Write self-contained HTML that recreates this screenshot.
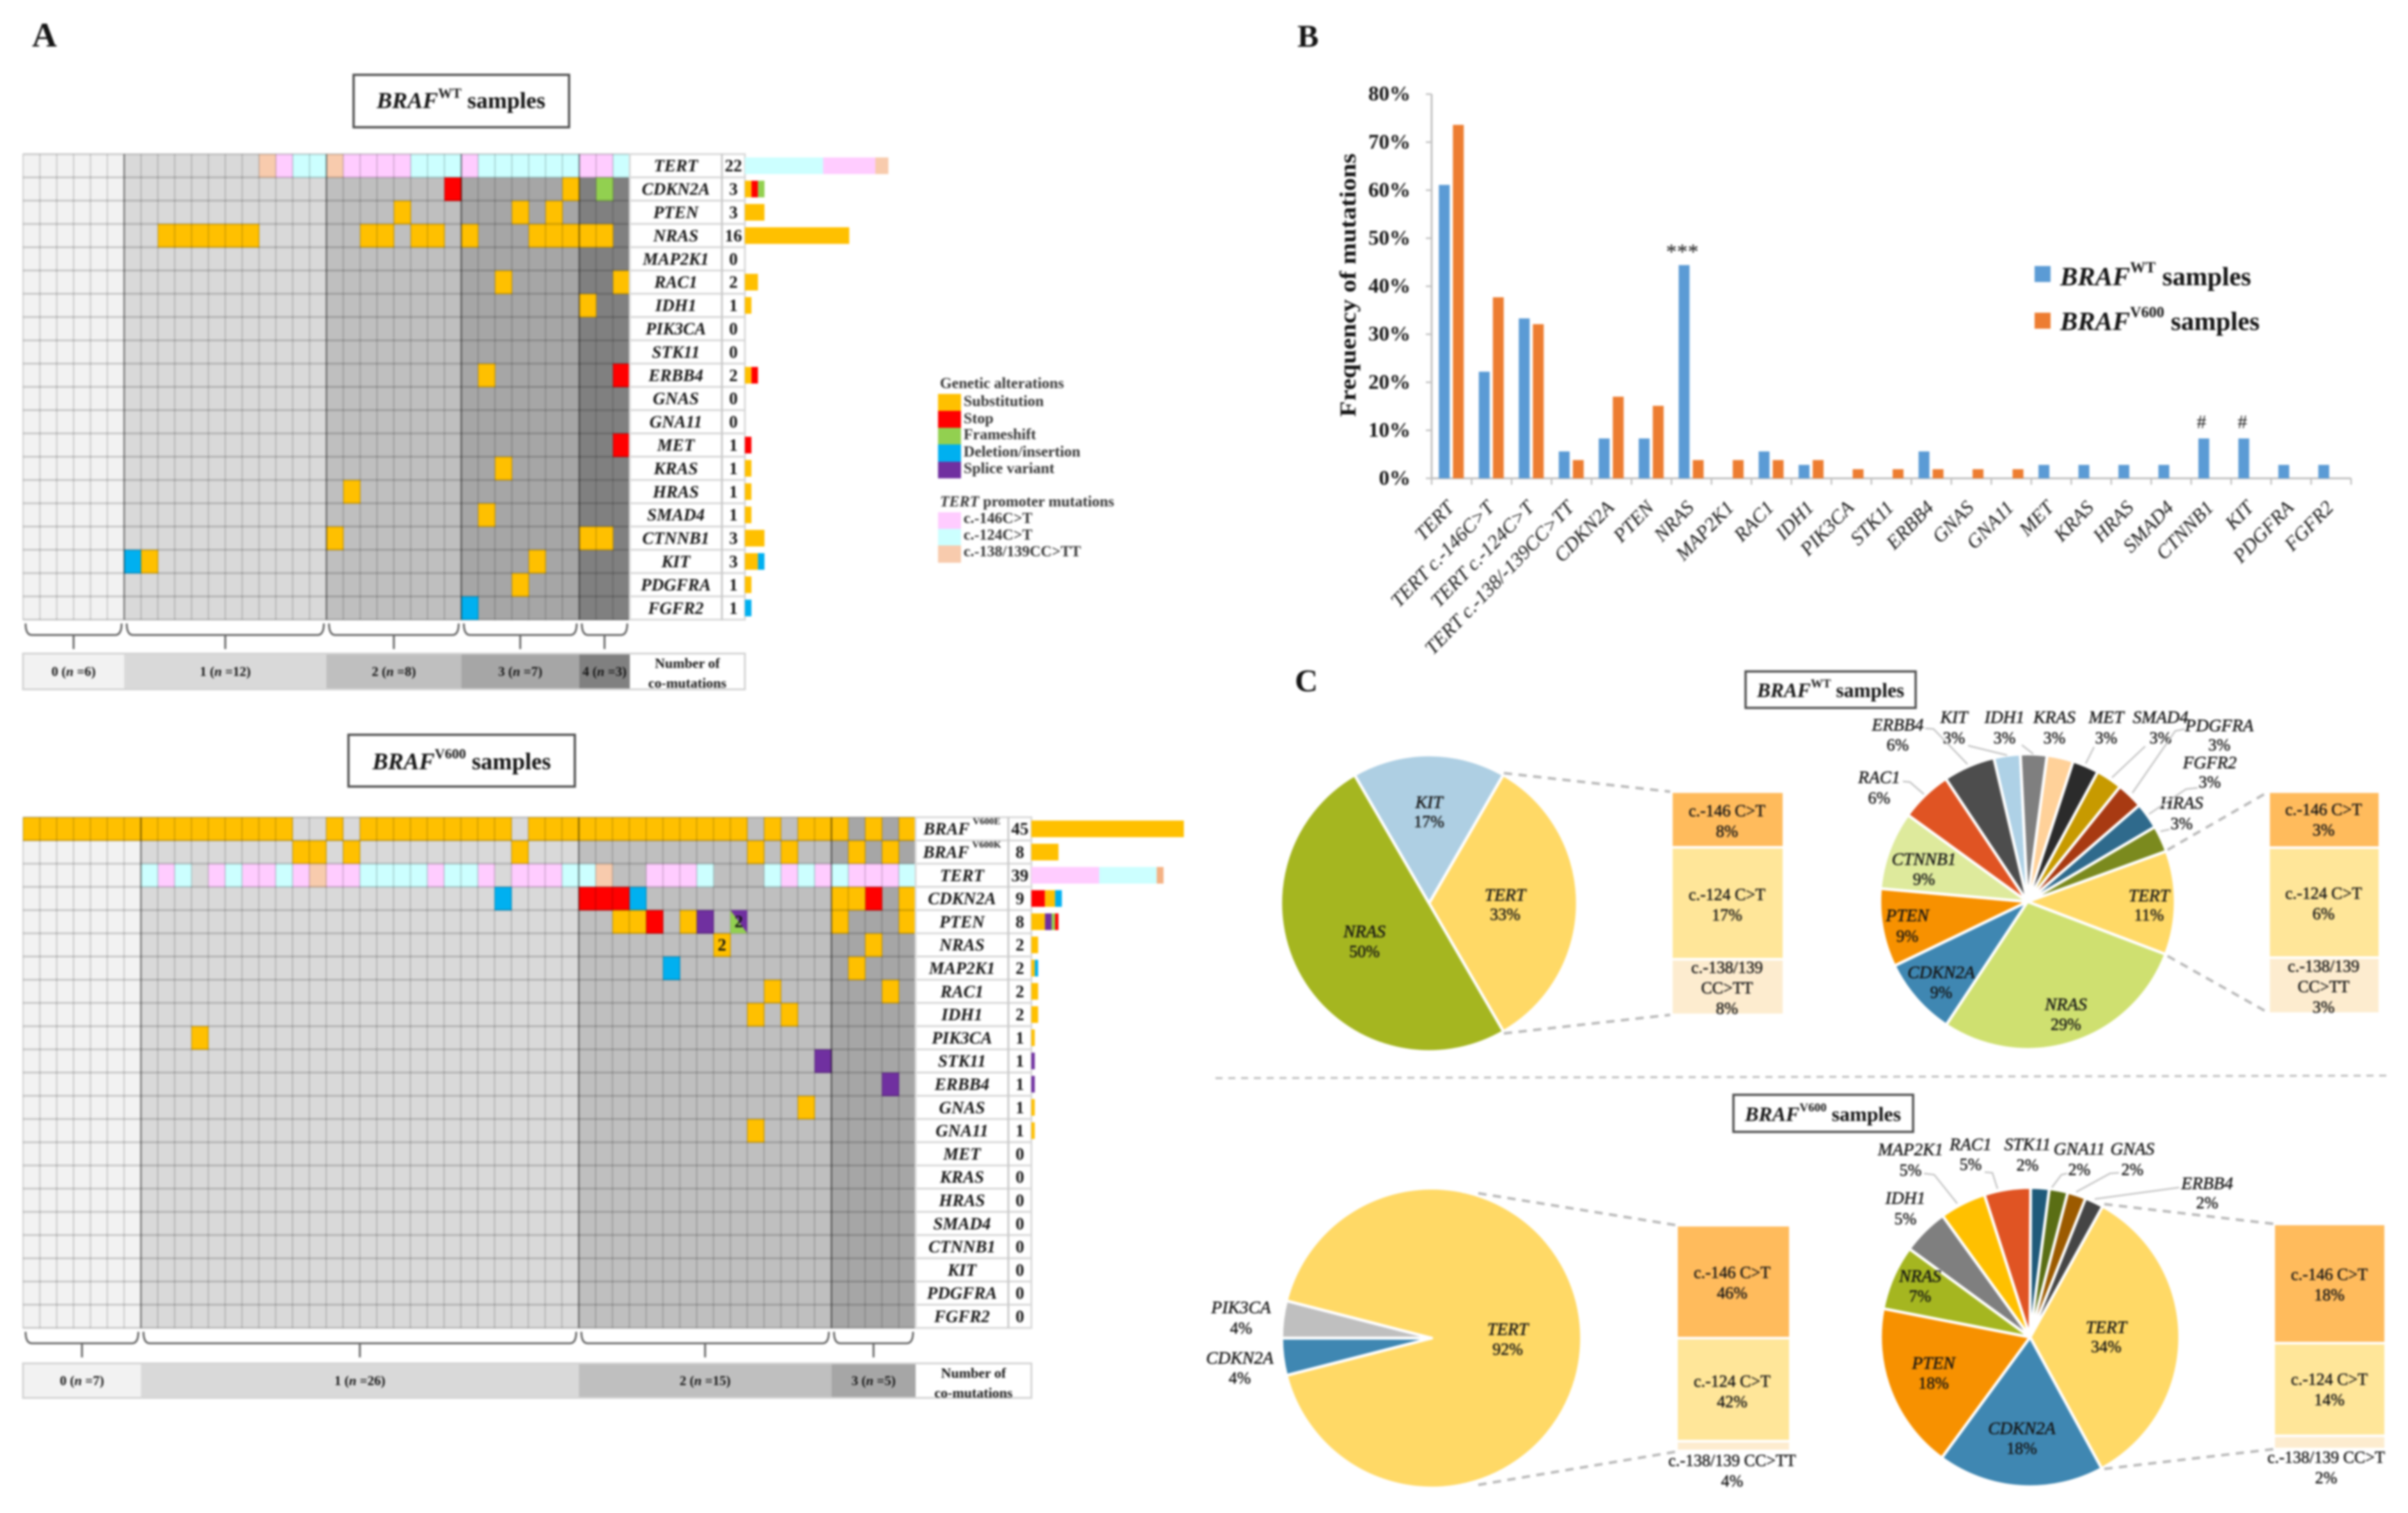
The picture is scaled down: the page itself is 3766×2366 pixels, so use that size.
<!DOCTYPE html>
<html lang="en">
<head>
<meta charset="utf-8">
<title>Co-mutation landscape of BRAF wild-type and V600 samples</title>
<style>
html,body{margin:0;padding:0;background:#fff}
svg{display:block;filter:blur(1.6px)}
text{font-family:"Liberation Serif",serif;fill:#141414;dominant-baseline:central}
.legend-text{font-size:24px;font-weight:bold;fill:#333}
.it{font-style:italic}
.gray-line{fill:none;stroke:#c4c4c4;stroke-width:2.5}
.dash-line{fill:none;stroke:#b8b8b8;stroke-width:4;stroke-dasharray:13 10}
.title-box{fill:#fff;stroke:#4d4d4d;stroke-width:3.5}
</style>
</head>
<body>
<svg id="figure" width="3766" height="2366" viewBox="0 0 3766 2366" xmlns="http://www.w3.org/2000/svg">
  <rect width="3766" height="2366" fill="#fff"/>

  <text x="50" y="55" font-size="54" font-weight="bold">A</text>
  <text x="2029" y="56" font-size="50" font-weight="bold">B</text>
  <text x="2025" y="1064" font-size="50" font-weight="bold">C</text>

  <rect class="title-box" x="553" y="117" width="337" height="82"/>
  <text x="721" y="157" font-size="36" font-weight="bold" text-anchor="middle"><tspan class="it">BRAF</tspan><tspan font-size="22" dy="-12">WT</tspan><tspan dy="12"> samples</tspan></text>
  <rect class="title-box" x="545" y="1149" width="354" height="81"/>
  <text x="722" y="1190" font-size="36.5" font-weight="bold" text-anchor="middle"><tspan class="it">BRAF</tspan><tspan font-size="22" dy="-12">V600</tspan><tspan dy="12"> samples</tspan></text>

  <g id="panel-a-wt"></g>
  <g id="panel-a-v600"></g>

  <g>
    <text class="legend-text" x="1470" y="600">Genetic alterations</text>
    <rect x="1467" y="616" width="36" height="27" fill="#ffc000"/>
    <rect x="1467" y="642.5" width="36" height="27" fill="#ff0000"/>
    <rect x="1467" y="669" width="36" height="27" fill="#92d050"/>
    <rect x="1467" y="695" width="36" height="27" fill="#00b0f0"/>
    <rect x="1467" y="722" width="36" height="26" fill="#7030a0"/>
    <text class="legend-text" x="1507" y="628">Substitution</text>
    <text class="legend-text" x="1507" y="655">Stop</text>
    <text class="legend-text" x="1507" y="680">Frameshift</text>
    <text class="legend-text" x="1507" y="707">Deletion/insertion</text>
    <text class="legend-text" x="1507" y="733">Splice variant</text>
    <text class="legend-text" x="1470" y="785"><tspan class="it">TERT</tspan>  promoter mutations</text>
    <rect x="1467" y="801" width="36" height="27" fill="#ffccff"/>
    <rect x="1467" y="827" width="36" height="27" fill="#ccffff"/>
    <rect x="1467" y="853" width="36" height="27" fill="#f8cbad"/>
    <text class="legend-text" x="1507" y="811">c.-146C&gt;T</text>
    <text class="legend-text" x="1507" y="837">c.-124C&gt;T</text>
    <text class="legend-text" x="1507" y="863">c.-138/139CC&gt;TT</text>
  </g>

  <g id="panel-b"></g>
  <text transform="translate(2108 446) rotate(-90)" text-anchor="middle" font-size="36" font-weight="bold" textLength="412" lengthAdjust="spacingAndGlyphs">Frequency of mutations</text>
  <rect x="3182" y="416" width="25" height="25" fill="#5b9bd5"/>
  <text x="3222" y="432" font-size="41" font-weight="bold"><tspan class="it">BRAF</tspan><tspan font-size="24" dy="-13">WT</tspan><tspan dy="13"> samples</tspan></text>
  <rect x="3182" y="489" width="25" height="25" fill="#ed7d31"/>
  <text x="3222" y="502" font-size="41" font-weight="bold"><tspan class="it">BRAF</tspan><tspan font-size="24" dy="-13">V600</tspan><tspan dy="13"> samples</tspan></text>
  <text x="2631" y="394" font-size="34" text-anchor="middle" fill="#555">***</text>
  <text x="3443" y="660" font-size="30" text-anchor="middle" fill="#666">#</text>
  <text x="3507" y="660" font-size="30" text-anchor="middle" fill="#666">#</text>

  <rect class="title-box" x="2730" y="1050" width="266" height="57"/>
  <text x="2863" y="1079" font-size="31.5" font-weight="bold" text-anchor="middle"><tspan class="it">BRAF</tspan><tspan font-size="19" dy="-10">WT</tspan><tspan dy="10"> samples</tspan></text>
  <rect class="title-box" x="2711" y="1712" width="281" height="58"/>
  <text x="2851" y="1742" font-size="32" font-weight="bold" text-anchor="middle"><tspan class="it">BRAF</tspan><tspan font-size="19" dy="-10">V600</tspan><tspan dy="10"> samples</tspan></text>

  <path d="M1901 1686 L3735 1682" fill="none" stroke="#bdbdbd" stroke-width="3" stroke-dasharray="11 9"/>

  <g id="panel-c"></g>

  <g>
    <path class="dash-line" d="M2352 1209 L2612 1238"/>
    <path class="dash-line" d="M2352 1616 L2612 1587"/>
    <path class="dash-line" d="M3390 1329 L3548 1238"/>
    <path class="dash-line" d="M3390 1495 L3548 1584"/>
    <path class="dash-line" d="M2312 1866 L2622 1916"/>
    <path class="dash-line" d="M2312 2322 L2622 2270"/>
    <path class="dash-line" d="M3291 1883 L3557 1914"/>
    <path class="dash-line" d="M3291 2297 L3557 2266"/>
  </g>

  <g>
    <polyline class="gray-line" points="2976,1222 2987,1223 3009,1242"/>
    <polyline class="gray-line" points="3011,1139 3024,1140 3077,1195"/>
    <polyline class="gray-line" points="3078,1166 3139,1181"/>
    <polyline class="gray-line" points="3162,1165 3180,1179"/>
    <polyline class="gray-line" points="3275,1168 3262,1194"/>
    <polyline class="gray-line" points="3355,1167 3303,1216"/>
    <polyline class="gray-line" points="3417,1140 3402,1143 3335,1240"/>
    <polyline class="gray-line" points="3437,1232 3419,1234 3361,1273"/>
    <polyline class="gray-line" points="3393,1297 3379,1300"/>
    <polyline class="gray-line" points="3009,1835 3025,1837 3061,1882"/>
    <polyline class="gray-line" points="3104,1833 3116,1834 3124,1859"/>
    <polyline class="gray-line" points="3233,1835 3224,1837 3209,1857"/>
    <polyline class="gray-line" points="3314,1834 3300,1835 3247,1864"/>
    <polyline class="gray-line" points="3408,1857 3276,1875"/>
  </g>
</svg>

<script>
// ---------- Panel A data: BRAF wild-type oncoprint ----------
const wtGenes = ['TERT','CDKN2A','PTEN','NRAS','MAP2K1','RAC1','IDH1','PIK3CA','STK11','ERBB4','GNAS','GNA11','MET','KRAS','HRAS','SMAD4','CTNNB1','KIT','PDGFRA','FGFR2'];
const wtCounts = [22,3,3,16,0,2,1,0,0,2,0,0,1,1,1,1,3,3,1,1];
const wtGroupSizes = [6,12,8,7,3];
const wtAlterations = [
  ['TERT','c138',[14,18]],
  ['TERT','c146',[15,19,20,21,22,26,33,34]],
  ['TERT','c124',[16,17,23,24,25,27,28,29,30,31,32,35]],
  ['CDKN2A','stop',[25]],['CDKN2A','sub',[32]],['CDKN2A','frame',[34]],
  ['PTEN','sub',[22,29,31]],
  ['NRAS','sub',[8,9,10,11,12,13,20,21,23,24,26,30,31,32,33,34]],
  ['RAC1','sub',[28,35]],
  ['IDH1','sub',[33]],
  ['ERBB4','sub',[27]],['ERBB4','stop',[35]],
  ['MET','stop',[35]],
  ['KRAS','sub',[28]],
  ['HRAS','sub',[19]],
  ['SMAD4','sub',[27]],
  ['CTNNB1','sub',[18,33,34]],
  ['KIT','indel',[6]],['KIT','sub',[7,30]],
  ['PDGFRA','sub',[29]],
  ['FGFR2','indel',[26]]
];
const wtBarSegments = [
  [['c124',12],['c146',8],['c138',2]],
  [['sub',1],['stop',1],['frame',1]],
  [['sub',3]],
  [['sub',16]],
  [],
  [['sub',2]],
  [['sub',1]],
  [],
  [],
  [['sub',1],['stop',1]],
  [],
  [],
  [['stop',1]],
  [['sub',1]],
  [['sub',1]],
  [['sub',1]],
  [['sub',3]],
  [['sub',2],['indel',1]],
  [['sub',1]],
  [['indel',1]]
];

// ---------- Panel A data: BRAF V600 oncoprint ----------
const v600Genes = ['BRAF V600E','BRAF V600K','TERT','CDKN2A','PTEN','NRAS','MAP2K1','RAC1','IDH1','PIK3CA','STK11','ERBB4','GNAS','GNA11','MET','KRAS','HRAS','SMAD4','CTNNB1','KIT','PDGFRA','FGFR2'];
const v600Counts = [45,8,39,9,8,2,2,2,2,1,1,1,1,1,0,0,0,0,0,0,0,0];
const v600GroupSizes = [7,26,15,5];
const v600Alterations = [
  ['BRAF V600E','sub',[0,1,2,3,4,5,6,7,8,9,10,11,12,13,14,15,18,20,21,22,23,24,25,26,27,28,30,31,32,33,34,35,36,37,38,39,40,41,42,44,46,47,48,50,52]],
  ['BRAF V600K','sub',[16,17,19,29,43,45,49,51]],
  ['TERT','c146',[8,11,13,14,16,18,19,24,27,29,30,31,37,38,39,45,47,49,50,51]],
  ['TERT','c124',[7,9,12,15,20,21,22,23,25,26,32,33,40,44,46,48,52]],
  ['TERT','c138',[17,34]],
  ['CDKN2A','indel',[28,36]],['CDKN2A','stop',[33,34,35,50]],['CDKN2A','sub',[48,49,52]],
  ['PTEN','sub',[35,36,39,48,52]],['PTEN','stop',[37]],['PTEN','splice',[40]],
  ['NRAS','sub',[41,50]],
  ['MAP2K1','indel',[38]],['MAP2K1','sub',[49]],
  ['RAC1','sub',[44,51]],
  ['IDH1','sub',[43,45]],
  ['PIK3CA','sub',[10]],
  ['STK11','splice',[47]],
  ['ERBB4','splice',[51]],
  ['GNAS','sub',[46]],
  ['GNA11','sub',[43]]
];
const v600SplitCells = [['PTEN','splice','frame',42]];
const v600DoubleHits = [['NRAS',41],['PTEN',42]];
const v600BarSegments = [
  [['sub',45]],
  [['sub',8]],
  [['c146',20],['c124',17],['c138dark',2]],
  [['stop',4],['sub',3],['indel',2]],
  [['sub',4],['splice',2],['frame',1],['stop',1]],
  [['sub',2]],
  [['sub',1],['indel',1]],
  [['sub',2]],
  [['sub',2]],
  [['sub',1]],
  [['splice',1]],
  [['splice',1]],
  [['sub',1]],
  [['sub',1]],
  [],[],[],[],[],[],[],[]
];

// ---------- Panel B data ----------
const barCategories = ['TERT','TERT c.-146C>T','TERT c.-124C>T','TERT c.-138/-139CC>TT','CDKN2A','PTEN','NRAS','MAP2K1','RAC1','IDH1','PIK3CA','STK11','ERBB4','GNAS','GNA11','MET','KRAS','HRAS','SMAD4','CTNNB1','KIT','PDGFRA','FGFR2'];
const barWtValues = [61.1,22.2,33.3,5.6,8.3,8.3,44.4,0,5.6,2.8,0,0,5.6,0,0,2.8,2.8,2.8,2.8,8.3,8.3,2.8,2.8];
const barV600Values = [73.6,37.7,32.1,3.8,17,15.1,3.8,3.8,3.8,3.8,1.9,1.9,1.9,1.9,1.9,0,0,0,0,0,0,0,0];
const barTickValues = [0,10,20,30,40,50,60,70,80];

// ---------- Panel C data ----------
const wtLeftNames = ['TERT','NRAS','KIT'];
const wtLeftValues = [33.3,50,16.7];
const wtLeftTert = [8.3,16.7,8.3];
const wtRightNames = ['TERT','NRAS','CDKN2A','PTEN','CTNNB1','RAC1','ERBB4','KIT','IDH1','KRAS','MET','SMAD4','PDGFRA','FGFR2','HRAS'];
const wtRightValues = [11.4,28.6,8.6,8.6,8.6,5.7,5.7,2.9,2.9,2.9,2.9,2.9,2.9,2.9,2.9];
const wtRightTert = [2.9,5.7,2.9];
const v600LeftNames = ['TERT','CDKN2A','PIK3CA'];
const v600LeftValues = [92,4,4];
const v600LeftTert = [46,42,4];
const v600RightNames = ['TERT','CDKN2A','PTEN','NRAS','IDH1','MAP2K1','RAC1','STK11','GNA11','GNAS','ERBB4'];
const v600RightValues = [34,18,18,7,5,5,5,2,2,2,2];
const v600RightTert = [18,14,2];

// ---------- Styling ----------
const NS = 'http://www.w3.org/2000/svg';
const alterationColors = {sub:'#ffc000',stop:'#ff0000',frame:'#92d050',indel:'#00b0f0',splice:'#7030a0',c146:'#ffccff',c124:'#ccffff',c138:'#f8cbad',c138dark:'#f4b183'};
const groupColors = ['#f2f2f2','#d9d9d9','#bfbfbf','#a6a6a6','#808080'];
const stackColors = ['#ffbb5c','#ffe699','#fdeccf'];

function make(tag, attrs, parent, text) {
  const node = document.createElementNS(NS, tag);
  for (const key in attrs) node.setAttribute(key, attrs[key]);
  if (text !== undefined) node.textContent = text;
  parent.appendChild(node);
  return node;
}

// ---------- Oncoprint ----------
function drawOncoprint(parent, layout, genes, counts, groupSizes, alterations, barSegments) {
  const samples = groupSizes.reduce((a, b) => a + b, 0);
  const colW = (layout.right - layout.left) / samples;
  const xOf = i => layout.left + i * colW;
  const yOf = r => layout.top + r * layout.rowH;
  const barX = v => layout.tableRight + v * layout.barUnit;
  const bottom = yOf(genes.length);

  // background cells by co-mutation group
  let start = 0;
  groupSizes.forEach(function (size, g) {
    for (let s = start; s < start + size; s++) {
      for (let r = 0; r < genes.length; r++) {
        const cell = make('rect', {x: xOf(s), y: yOf(r), width: colW + 0.5, height: layout.rowH + 0.5, fill: groupColors[g]}, parent);
        
        
      }
    }
    start += size;
  });

  // alteration cells
  alterations.forEach(function (entry) {
    const row = genes.indexOf(entry[0]);
    entry[2].forEach(function (s) {
      const mark = make('rect', {x: xOf(s), y: yOf(row), width: colW + 0.5, height: layout.rowH + 0.5, fill: alterationColors[entry[1]]}, parent);
      
      
    });
  });

  // grid
  for (let s = 0; s <= samples; s++) {
    const v = make('line', {x1: xOf(s), x2: xOf(s), y1: layout.top, y2: bottom, stroke: 'rgba(0,0,0,.17)', 'stroke-width': 2}, parent);
    
    
  }
  for (let r = 0; r <= genes.length; r++) {
    const h = make('line', {x1: layout.left, x2: layout.right, y1: yOf(r), y2: yOf(r), stroke: 'rgba(0,0,0,.17)', 'stroke-width': 3}, parent);
    
    
  }

  // group boundaries, brackets and co-mutation band
  start = 0;
  groupSizes.forEach(function (size, g) {
    const x1 = xOf(start), x2 = xOf(start + size), mid = (x1 + x2) / 2;
    if (start > 0) {
      const b = make('line', {x1: x1, x2: x1, y1: layout.top, y2: bottom, stroke: 'rgba(0,0,0,.38)', 'stroke-width': 2.5}, parent);
      
      
    }
    const yA = bottom + 6, yB = bottom + 24, yC = bottom + 46;
    const bracket = make('path', {d: 'M' + (x1 + 4) + ' ' + yA + ' Q' + (x1 + 4) + ' ' + yB + ' ' + (x1 + 14) + ' ' + yB + ' L' + (x2 - 14) + ' ' + yB + ' Q' + (x2 - 4) + ' ' + yB + ' ' + (x2 - 4) + ' ' + yA + ' M' + mid + ' ' + yB + ' L' + mid + ' ' + yC, fill: 'none', stroke: '#666', 'stroke-width': 3}, parent);
    
    

    const band = make('rect', {x: x1, y: layout.bandTop, width: x2 - x1, height: layout.bandH, fill: groupColors[g]}, parent);
    
    
    const bandText = make('text', {x: mid, y: layout.bandTop + layout.bandH / 2, 'font-size': 21, 'font-weight': 'bold', 'text-anchor': 'middle'}, parent);
    
    
    make('tspan', {}, bandText, g + ' (');
    make('tspan', {'font-style': 'italic'}, bandText, 'n');
    make('tspan', {}, bandText, ' =' + size + ')');
    start += size;
  });
  const bandBox = make('rect', {x: layout.left, y: layout.bandTop, width: layout.tableRight - layout.left, height: layout.bandH, fill: 'none', stroke: '#d4d4d4', 'stroke-width': 3}, parent);
  
  
  const tableMid = (layout.right + layout.tableRight) / 2;
  const nm1 = make('text', {x: tableMid, y: layout.bandTop + 15, 'font-size': 22, 'font-weight': 'bold', 'text-anchor': 'middle'}, parent, 'Number of');
  
  
  const nm2 = make('text', {x: tableMid, y: layout.bandTop + 46, 'font-size': 22, 'font-weight': 'bold', 'text-anchor': 'middle'}, parent, 'co-mutations');
  
  

  // gene table and marginal bars
  genes.forEach(function (gene, r) {
    const row = make('rect', {x: layout.right, y: yOf(r), width: layout.tableRight - layout.right, height: layout.rowH, fill: '#fff', stroke: '#d9d9d9', 'stroke-width': 3}, parent);
    
    
    const labelX = (layout.right + layout.divider) / 2;
    const parts = gene.split(' ');
    const label = make('text', {x: labelX, y: yOf(r) + layout.rowH / 2, 'font-size': 27, 'font-style': 'italic', 'font-weight': 'bold', fill: '#333', 'text-anchor': 'middle'}, parent, parts[0]);
    
    
    if (parts[1]) {
      const sup = make('tspan', {'font-size': 15, dy: -11, dx: 5, 'font-style': 'normal'}, label, parts[1]);
      
      
    }
    const count = make('text', {x: (layout.divider + layout.tableRight) / 2, y: yOf(r) + layout.rowH / 2, 'font-size': 27, 'font-weight': 'bold', fill: '#333', 'text-anchor': 'middle'}, parent, counts[r]);
    
    
    let acc = 0;
    barSegments[r].forEach(function (seg) {
      const bar = make('rect', {x: barX(acc), y: yOf(r) + (layout.rowH - 26) / 2, width: barX(acc + seg[1]) - barX(acc), height: 26, fill: alterationColors[seg[0]]}, parent);
      
      
      acc += seg[1];
    });
  });
  const divider = make('line', {x1: layout.divider, x2: layout.divider, y1: layout.top, y2: bottom, stroke: '#c9c9c9', 'stroke-width': 3}, parent);
  
  

  return {xOf: xOf, yOf: yOf, colW: colW};
}

const wtRoot = document.getElementById('panel-a-wt');
drawOncoprint(wtRoot, {left: 36, right: 985, top: 241, rowH: 36.4, divider: 1129, tableRight: 1165, barUnit: 10.2, bandTop: 1022, bandH: 56}, wtGenes, wtCounts, wtGroupSizes, wtAlterations, wtBarSegments);

const v600Root = document.getElementById('panel-a-v600');
const v600Axes = drawOncoprint(v600Root, {left: 36, right: 1432, top: 1278, rowH: 36.3, divider: 1577, tableRight: 1613, barUnit: 5.3, bandTop: 2132, bandH: 54}, v600Genes, v600Counts, v600GroupSizes, v600Alterations, v600BarSegments);

v600SplitCells.forEach(function (c) {
  const row = v600Genes.indexOf(c[0]);
  const x = v600Axes.xOf(c[3]), y = v600Axes.yOf(row), w = v600Axes.colW, h = 36.3;
  const upper = make('polygon', {points: x + ',' + y + ' ' + (x + w) + ',' + y + ' ' + (x + w) + ',' + (y + h), fill: alterationColors[c[1]]}, v600Root);
  
  
  const lower = make('polygon', {points: x + ',' + y + ' ' + x + ',' + (y + h) + ' ' + (x + w) + ',' + (y + h), fill: alterationColors[c[2]]}, v600Root);
  
  
});
v600DoubleHits.forEach(function (c) {
  const row = v600Genes.indexOf(c[0]);
  const hit = make('text', {x: v600Axes.xOf(c[1]) + v600Axes.colW / 2, y: v600Axes.yOf(row) + 18, 'font-size': 27, 'font-weight': 'bold', 'text-anchor': 'middle'}, v600Root, '2');
  
  
});

// ---------- Panel B ----------
(function () {
  const root = document.getElementById('panel-b');
  const x0 = 2239, x1 = 3677, y0 = 748, pxPerPct = 7.51;
  const bandW = (x1 - x0) / barCategories.length;
  const yScale = v => y0 - v * pxPerPct;
  const xBand = i => x0 + i * bandW;

  const yAxis = make('line', {x1: x0, x2: x0, y1: yScale(80), y2: y0, stroke: '#bfbfbf', 'stroke-width': 3}, root);
  
  
  const xAxis = make('line', {x1: x0, x2: x1, y1: y0, y2: y0, stroke: '#bfbfbf', 'stroke-width': 3}, root);
  
  

  barTickValues.forEach(function (t) {
    const tick = make('line', {x1: x0 - 9, x2: x0, y1: yScale(t), y2: yScale(t), stroke: '#bfbfbf', 'stroke-width': 2.5}, root);
    
    
    const lab = make('text', {x: x0 - 33, y: yScale(t), 'font-size': 33, 'font-weight': 'bold', 'text-anchor': 'end', fill: '#2a2a2a'}, root, t + '%');
    
    
  });

  for (let i = 0; i <= barCategories.length; i++) {
    const tick = make('line', {x1: xBand(i), x2: xBand(i), y1: y0, y2: y0 + 10, stroke: '#bfbfbf', 'stroke-width': 2.5}, root);
    
    
  }

  barCategories.forEach(function (name, i) {
    const c = xBand(i) + bandW / 2;
    const w = make('rect', {x: c - 20, y: yScale(barWtValues[i]), width: 17, height: y0 - yScale(barWtValues[i]), fill: '#5b9bd5'}, root);
    
    
    const v = make('rect', {x: c + 2, y: yScale(barV600Values[i]), width: 17, height: y0 - yScale(barV600Values[i]), fill: '#ed7d31'}, root);
    
    
    const lx = c - 2, ly = 788;
    const lab = make('text', {x: lx, y: ly, transform: 'rotate(-46 ' + lx + ' ' + ly + ')', 'font-size': 31, 'font-style': 'italic', 'text-anchor': 'end', fill: '#141414'}, root, name);
    
    
  });
})();

// ---------- Panel C ----------
const pieRoot = document.getElementById('panel-c');

function polar(cx, cy, r, deg) {
  const a = deg * Math.PI / 180;
  return [cx + r * Math.sin(a), cy - r * Math.cos(a)];
}

function drawPie(cx, cy, r, startDeg, values, colors) {
  const total = values.reduce((a, b) => a + b, 0);
  let angle = startDeg;
  values.forEach(function (v, i) {
    const sweep = v / total * 360;
    const p1 = polar(cx, cy, r, angle);
    const p2 = polar(cx, cy, r, angle + sweep);
    const large = sweep > 180 ? 1 : 0;
    const slice = make('path', {d: 'M' + cx + ' ' + cy + ' L' + p1[0] + ' ' + p1[1] + ' A' + r + ' ' + r + ' 0 ' + large + ' 1 ' + p2[0] + ' ' + p2[1] + ' Z', fill: colors[i], stroke: '#fff', 'stroke-width': 4.5, 'stroke-linejoin': 'round'}, pieRoot);
    
    
    angle += sweep;
  });
}

function pieLabel(names, values, i, x, y1, y2) {
  const nameText = make('text', {x: x, y: y1, 'font-size': 27.5, 'font-style': 'italic', 'text-anchor': 'middle', stroke: '#141414', 'stroke-width': 0.5}, pieRoot, names[i]);
  
  
  const pctText = make('text', {x: x, y: y2, 'font-size': 26, 'text-anchor': 'middle', stroke: '#141414', 'stroke-width': 0.5}, pieRoot, Math.round(values[i]) + '%');
  
  
}

function drawStack(x, w, top, bottom, values) {
  const total = values.reduce((a, b) => a + b, 0);
  let y = top;
  values.forEach(function (v, i) {
    const h = v / total * (bottom - top);
    const seg = make('rect', {x: x, y: y + 2, width: w, height: Math.max(h - 4, 1), fill: stackColors[i]}, pieRoot);
    
    
    y += h;
  });
}

function stackLabel(lines, value, x, ys) {
  lines.forEach(function (line, i) {
    const t = make('text', {x: x, y: ys[i], 'font-size': 26, 'text-anchor': 'middle', stroke: '#141414', 'stroke-width': 0.5}, pieRoot, line);
    
    
  });
  const p = make('text', {x: x, y: ys[lines.length], 'font-size': 26, 'text-anchor': 'middle', stroke: '#141414', 'stroke-width': 0.5}, pieRoot, Math.round(value) + '%');
  
  
}

// WT left
drawPie(2235, 1412.5, 232, 30, wtLeftValues, ['#ffd966','#a5b620','#aecfe3']);
pieLabel(wtLeftNames, wtLeftValues, 0, 2354, 1399, 1430);
pieLabel(wtLeftNames, wtLeftValues, 1, 2134, 1456, 1488);
pieLabel(wtLeftNames, wtLeftValues, 2, 2235, 1254, 1285);
drawStack(2616, 172, 1238, 1587, wtLeftTert);
stackLabel(['c.-146 C>T'], wtLeftTert[0], 2701, [1268, 1300]);
stackLabel(['c.-124 C>T'], wtLeftTert[1], 2701, [1399, 1431]);
stackLabel(['c.-138/139', 'CC>TT'], wtLeftTert[2], 2701, [1513, 1545, 1577]);

// WT right
drawPie(3171, 1410, 231, 70, wtRightValues, ['#ffd966','#cfe070','#3f87b2','#f79100','#deea9c','#e05423','#4d4d4d','#aed1e6','#7f7f7f','#ffd199','#2b2b2b','#c79a00','#a83a12','#2f6a8c','#7b8a1e']);
pieLabel(wtRightNames, wtRightValues, 0, 3361, 1400, 1431);
pieLabel(wtRightNames, wtRightValues, 1, 3231, 1570, 1602);
pieLabel(wtRightNames, wtRightValues, 2, 3036, 1520, 1552);
pieLabel(wtRightNames, wtRightValues, 3, 2983, 1431, 1464);
pieLabel(wtRightNames, wtRightValues, 4, 3009, 1343, 1375);
pieLabel(wtRightNames, wtRightValues, 5, 2939, 1215, 1248);
pieLabel(wtRightNames, wtRightValues, 6, 2968, 1133, 1165);
pieLabel(wtRightNames, wtRightValues, 7, 3056, 1121, 1154);
pieLabel(wtRightNames, wtRightValues, 8, 3135, 1121, 1154);
pieLabel(wtRightNames, wtRightValues, 9, 3213, 1121, 1154);
pieLabel(wtRightNames, wtRightValues, 10, 3294, 1121, 1154);
pieLabel(wtRightNames, wtRightValues, 11, 3379, 1121, 1154);
pieLabel(wtRightNames, wtRightValues, 12, 3471, 1134, 1165);
pieLabel(wtRightNames, wtRightValues, 13, 3456, 1192, 1223);
pieLabel(wtRightNames, wtRightValues, 14, 3412, 1255, 1288);
drawStack(3550, 170, 1238, 1585, wtRightTert);
stackLabel(['c.-146 C>T'], wtRightTert[0], 3634, [1266, 1298]);
stackLabel(['c.-124 C>T'], wtRightTert[1], 3634, [1397, 1429]);
stackLabel(['c.-138/139', 'CC>TT'], wtRightTert[2], 3634, [1511, 1543, 1575]);

// V600 left
drawPie(2239, 2092.5, 234.5, 284.4, v600LeftValues, ['#ffd966','#3f87b2','#bfbfbf']);
pieLabel(v600LeftNames, v600LeftValues, 0, 2358, 2078, 2110);
pieLabel(v600LeftNames, v600LeftValues, 1, 1939, 2123, 2155);
pieLabel(v600LeftNames, v600LeftValues, 2, 1941, 2044, 2077);
drawStack(2624, 174, 1916, 2269, v600LeftTert);
stackLabel(['c.-146 C>T'], v600LeftTert[0], 2709, [1990, 2022]);
stackLabel(['c.-124 C>T'], v600LeftTert[1], 2709, [2160, 2192]);
stackLabel(['c.-138/139 CC>TT'], v600LeftTert[2], 2709, [2284, 2316]);

// V600 right
drawPie(3175, 2091, 234, 29, v600RightValues, ['#ffd966','#3f87b2','#f79100','#a5b620','#7f7f7f','#ffc000','#e05423','#1f5a7a','#5a6e14','#9c5a00','#454545']);
pieLabel(v600RightNames, v600RightValues, 0, 3294, 2075, 2106);
pieLabel(v600RightNames, v600RightValues, 1, 3162, 2233, 2265);
pieLabel(v600RightNames, v600RightValues, 2, 3024, 2131, 2163);
pieLabel(v600RightNames, v600RightValues, 3, 3003, 1995, 2027);
pieLabel(v600RightNames, v600RightValues, 4, 2980, 1873, 1906);
pieLabel(v600RightNames, v600RightValues, 5, 2988, 1797, 1830);
pieLabel(v600RightNames, v600RightValues, 6, 3082, 1789, 1821);
pieLabel(v600RightNames, v600RightValues, 7, 3171, 1789, 1822);
pieLabel(v600RightNames, v600RightValues, 8, 3252, 1796, 1829);
pieLabel(v600RightNames, v600RightValues, 9, 3335, 1796, 1829);
pieLabel(v600RightNames, v600RightValues, 10, 3452, 1850, 1881);
drawStack(3558, 171, 1914, 2266, v600RightTert);
stackLabel(['c.-146 C>T'], v600RightTert[0], 3643, [1993, 2025]);
stackLabel(['c.-124 C>T'], v600RightTert[1], 3643, [2157, 2189]);
stackLabel(['c.-138/139 CC>T'], v600RightTert[2], 3638, [2279, 2311]);
</script>
</body>
</html>
